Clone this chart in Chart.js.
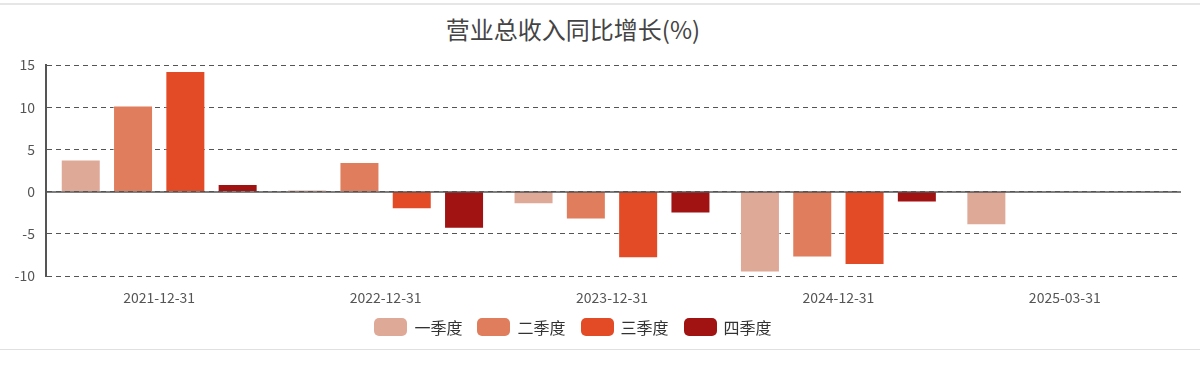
<!DOCTYPE html>
<html>
<head>
<meta charset="utf-8">
<script src="https://cdn.jsdelivr.net/npm/chart.js@4.4.0/dist/chart.umd.min.js"></script>
<style>
  body { margin: 0; background: #fff; font-family: "Noto Sans CJK SC", "Noto Sans", sans-serif; }
  #wrap { position: relative; width: 1200px; height: 370px; overflow: hidden; }
  #topline { position: absolute; left: 0; top: 3px; width: 1200px; height: 2px; background: #e6e6e6; }
  #botline { position: absolute; left: 0; top: 349px; width: 1200px; height: 1px; background: #e0e0e0; }
  #title { position: absolute; left: 0; top: 11px; width: 1146px; text-align: center; font-size: 24px; color: #444; }
  #legend { position: absolute; left: 0; top: 315px; width: 1146px; display: flex; justify-content: center; gap: 15px; font-size: 16px; color: #333; }
  .item { display: flex; align-items: center; gap: 7px; height: 23px; }
  .box { width: 33px; height: 18px; border-radius: 5px; }
  canvas { position: absolute; left: 0; top: 0; }
</style>
</head>
<body>
<div id="wrap">
  <div id="topline"></div>
  <div id="title">营业总收入同比增长(%)</div>
  <canvas id="chart" width="1200" height="370"></canvas>
  <div id="legend"></div>
  <div id="botline"></div>
</div>
<script>
const categories = ["2021-12-31", "2022-12-31", "2023-12-31", "2024-12-31", "2025-03-31"];
const seriesNames = ["一季度", "二季度", "三季度", "四季度"];
const q1 = [3.8, 0.2, -1.5, -9.6, -4.0];
const q2 = [10.2, 3.5, -3.3, -7.8, null];
const q3 = [14.3, -2.1, -7.9, -8.7, null];
const q4 = [0.9, -4.4, -2.6, -1.3, null];
const colors = ["#dfa998", "#e07d5d", "#e34b26", "#a11212"];
const yTicks = [-10, -5, 0, 5, 10, 15];

const ctx = document.getElementById("chart").getContext("2d");

// solid line at zero, over the dashed grid
const zeroLine = {
    id: "zeroLine",
    afterDatasetsDraw(chart) {
        const y = chart.scales.y.getPixelForValue(0);
        const a = chart.chartArea;
        const c = chart.ctx;
        c.save();
        c.strokeStyle = "#555";
        c.lineWidth = 1.5;
        c.beginPath();
        c.moveTo(a.left, Math.round(y));
        c.lineTo(a.right + 3, Math.round(y));
        c.stroke();
        c.restore();
    }
};

const chart = new Chart(ctx, {
    type: "bar",
    data: {
        labels: categories,
        datasets: [q1, q2, q3, q4].map((d, i) => ({
            label: seriesNames[i],
            data: d,
            backgroundColor: colors[i],
            borderColor: "rgba(255,255,255,0.45)",
            borderWidth: 1,
            categoryPercentage: 0.924,
            barPercentage: 0.765
        }))
    },
    options: {
        responsive: false,
        animation: false,
        layout: { padding: { top: 65, left: 0, right: 22, bottom: 0 } },
        plugins: {
            legend: { display: false },
            tooltip: { enabled: false }
        },
        scales: {
            x: {
                grid: { display: false },
                border: { display: false },
                ticks: { color: "#555", font: { size: 14, family: "'Noto Sans CJK SC', sans-serif" }, padding: 5 },
                afterFit: (s) => { s.height = 94; }
            },
            y: {
                min: -10,
                max: 15,
                afterBuildTicks: (s) => { s.ticks = yTicks.map(v => ({ value: v })); },
                grid: { color: "#555", lineWidth: 1, drawTicks: false },
                border: { display: true, color: "#555", width: 2, dash: [5, 4] },
                ticks: { color: "#555", font: { size: 14, family: "'Noto Sans CJK SC', sans-serif" }, padding: 11 },
                afterFit: (s) => { s.width = 46; }
            }
        }
    },
    plugins: [zeroLine]
});

const legend = document.getElementById("legend");
seriesNames.forEach((name, i) => {
    const item = document.createElement("div");
    item.className = "item";
    item.innerHTML = '<div class="box" style="background:' + colors[i] + '"></div><span>' + name + '</span>';
    legend.appendChild(item);
});
</script>
</body>
</html>
